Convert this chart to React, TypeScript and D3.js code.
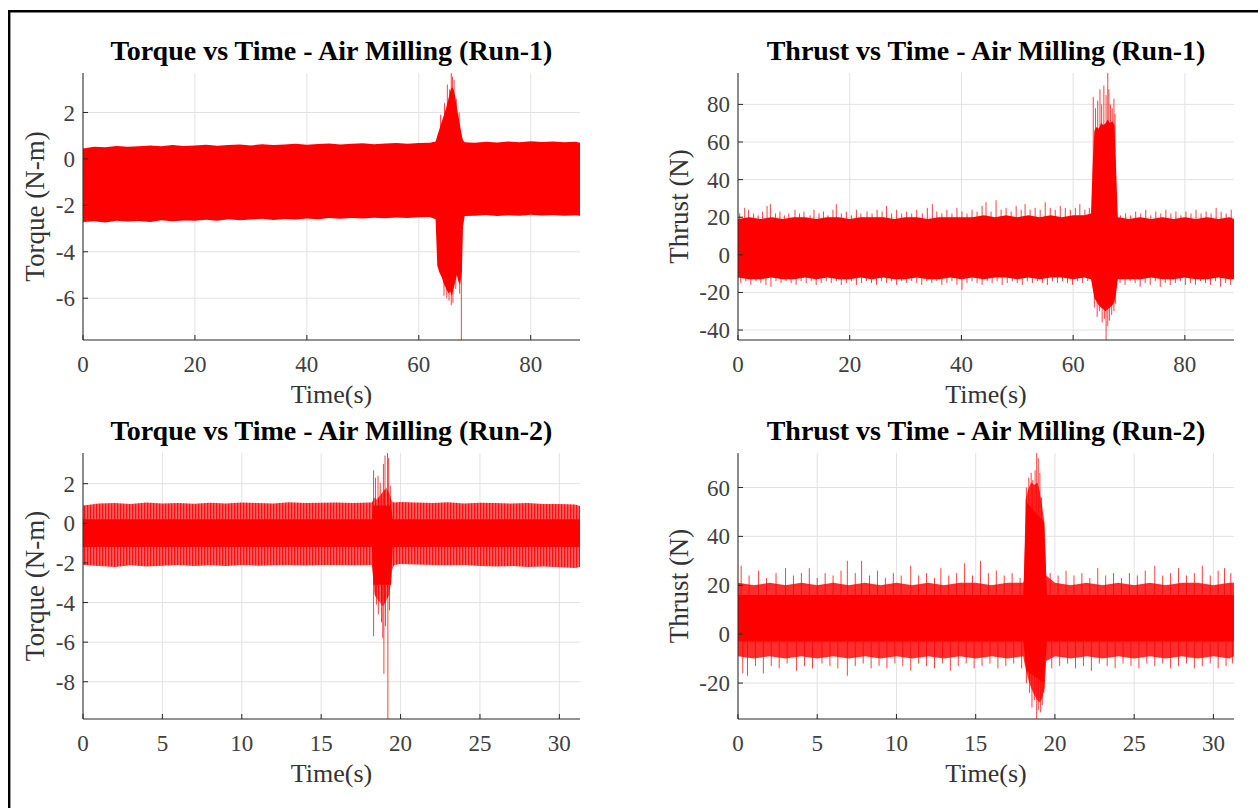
import React from 'react';
import * as d3 from 'd3';

type Pt = [number, number];

// ---------- Panel A : Torque vs Time - Run-1 ----------
const timeA = [0,2,4,6,8,10,12,14,16,18,20,22,24,26,28,30,32,34,36,38,40,42,44,46,48,50,52,54,56,58,60,62,
  63.0,63.3,63.7,64.1,64.5,64.9,65.3,65.6,65.9,66.2,66.5,66.8,67.1,67.4,67.7,67.9,68.2,
  70,72,74,76,78,80,82,84,86,88,88.8];
const upperA = [0.45,0.52,0.50,0.56,0.52,0.55,0.58,0.54,0.60,0.56,0.58,0.61,0.57,0.60,0.62,0.58,0.63,0.60,0.62,0.65,0.61,0.64,0.66,0.62,0.65,0.67,0.63,0.66,0.68,0.65,0.68,0.70,
  0.75,1.0,1.3,1.6,1.9,2.2,2.6,2.9,3.1,3.0,2.7,2.2,1.8,1.4,1.0,0.8,0.72,
  0.70,0.74,0.71,0.75,0.72,0.76,0.73,0.75,0.72,0.74,0.70];
const lowerA = [-2.72,-2.68,-2.74,-2.66,-2.70,-2.67,-2.72,-2.64,-2.68,-2.65,-2.66,-2.62,-2.66,-2.60,-2.64,-2.61,-2.58,-2.63,-2.59,-2.61,-2.57,-2.60,-2.55,-2.58,-2.54,-2.57,-2.53,-2.56,-2.52,-2.55,-2.51,-2.50,
  -2.6,-4.6,-4.9,-5.1,-5.4,-5.6,-5.8,-5.7,-5.9,-5.6,-5.3,-5.0,-5.3,-5.4,-4.8,-2.9,-2.46,
  -2.45,-2.42,-2.46,-2.43,-2.45,-2.41,-2.44,-2.42,-2.45,-2.43,-2.45];
const spikesA: Pt[] = [[63.9,1.9],[64.6,2.4],[65.1,3.2],[65.5,3.0],[65.8,3.72],[66.0,3.55],[66.3,3.4],[66.7,2.6],[67.2,2.0],
  [64.5,-5.9],[65.0,-6.0],[65.4,-6.1],[65.8,-6.3],[66.1,-6.2],[66.6,-5.6],[67.3,-5.8],[67.6,-7.9]];

// ---------- Panel B : Thrust vs Time - Run-1 ----------
const timeB = [0,2,4,6,8,10,12,14,16,18,20,22,24,26,28,30,32,34,36,38,40,42,44,46,48,50,52,54,56,58,60,62,
  63.2,63.5,63.8,64.2,64.6,65.0,65.4,65.8,66.2,66.6,67.0,67.4,67.7,68.0,
  70,72,74,76,78,80,82,84,86,88,88.8];
const upperB = [19,20,19,20,19,20,20,19,20,20,19,20,20,20,19,20,20,19,20,20,20,20,21,20,21,20,21,20,21,20,21,21,
  22,48,66,68,67,70,69,70,72,70,71,69,45,20,
  19,20,19,20,19,20,19,20,19,20,19];
const lowerB = [-12,-13,-13,-12,-13,-13,-12,-13,-12,-13,-13,-12,-13,-12,-13,-13,-12,-13,-13,-12,-13,-12,-13,-12,-12,-13,-12,-13,-12,-12,-13,-12,
  -13,-18,-23,-25,-27,-28,-29,-30,-29,-28,-27,-25,-20,-13,
  -13,-13,-12,-13,-13,-12,-13,-13,-12,-13,-13];
const spikesB: Pt[] = [
  [0.3,22],[1.2,25],[1.9,24],[2.8,22],[3.6,21],[4.4,23],[5.2,26],[5.8,27],[6.7,22],[7.5,23],[8.3,21],[9.1,22],[10.2,24],[11.0,22],[11.8,23],[12.9,21],[13.6,24],[14.5,22],[15.3,23],[16.1,21],[17.0,24],[17.6,27],[18.5,22],[19.4,23],[20.3,21],[21.2,24],[22.0,22],[23.1,23],[24.0,22],[24.9,24],[25.8,23],[26.6,26],[27.5,22],[28.4,24],[29.3,22],[30.2,23],[31.1,22],[32.0,24],[33.0,22],[33.9,25],[34.8,27],[35.6,23],[36.5,22],[37.4,24],[38.3,22],[39.2,25],[40.1,23],[41.0,22],[41.9,24],[42.8,23],[43.7,26],[44.4,28],[45.3,23],[46.2,29],[47.1,24],[48.0,25],[48.9,23],[49.8,26],[50.7,24],[51.4,27],[52.3,24],[53.2,25],[54.1,24],[55.0,28],[55.9,25],[56.8,24],[57.7,26],[58.6,25],[59.5,24],[60.4,25],[61.2,27],[62.1,24],[62.9,25],
  [68.5,21],[69.4,22],[70.3,21],[71.2,23],[72.1,22],[73.0,24],[73.9,21],[74.8,23],[75.7,22],[76.6,24],[77.5,22],[78.4,23],[79.3,21],[80.2,23],[81.1,22],[82.0,24],[82.9,22],[83.8,23],[84.7,22],[85.6,25],[86.5,23],[87.4,22],[88.3,24],
  [63.6,84],[64.0,78],[64.4,82],[64.8,88],[65.1,80],[65.5,90],[65.9,85],[66.2,97],[66.4,88],[66.7,80],[67.0,78],[67.3,83],[67.5,75],
  [0.5,-15],[1.4,-14],[2.3,-16],[3.2,-14],[4.1,-15],[5.0,-16],[5.9,-17],[6.8,-14],[7.7,-15],[8.6,-14],[9.5,-15],[10.4,-16],[11.3,-14],[12.2,-15],[13.1,-14],[14.0,-16],[14.9,-15],[15.8,-14],[16.7,-15],[17.6,-14],[18.5,-16],[19.4,-15],[20.3,-14],[21.2,-16],[22.1,-15],[23.0,-14],[23.9,-15],[24.8,-16],[25.7,-14],[26.6,-15],[27.5,-14],[28.4,-16],[29.3,-14],[30.2,-15],[31.1,-14],[32.0,-15],[32.9,-16],[33.8,-14],[34.7,-15],[35.6,-14],[36.5,-16],[37.4,-15],[38.3,-14],[39.2,-16],[40.1,-18.6],[41.0,-15],[41.9,-14],[42.8,-15],[43.7,-16],[44.6,-14],[45.5,-15],[46.4,-14],[47.3,-16],[48.2,-15],[49.1,-14],[50.0,-15],[50.9,-16],[51.8,-14],[52.7,-15],[53.6,-14],[54.5,-15],[55.4,-16],[56.3,-14],[57.2,-15],[58.1,-14],[59.0,-15],[59.9,-16],[60.8,-14],[61.7,-15],[62.6,-14],
  [68.4,-15],[69.3,-16],[70.2,-14],[71.1,-15],[72.0,-17],[72.9,-15],[73.8,-16],[74.7,-14],[75.6,-17],[76.5,-15],[77.4,-16],[78.3,-15],[79.2,-14],[80.1,-16],[81.0,-15],[81.9,-16],[82.8,-14],[83.7,-15],[84.6,-16],[85.5,-14],[86.4,-17],[87.3,-15],[88.2,-16],
  [63.8,-28],[64.3,-33],[64.7,-30],[65.2,-36],[65.6,-34],[65.9,-45.3],[66.2,-38],[66.5,-35],[66.9,-32],[67.3,-30],[67.6,-26]];

// ---------- Panel C : Torque vs Time - Run-2 ----------
const timeC = [0,1,2,3,4,5,6,7,8,9,10,11,12,13,14,15,16,17,18,
  18.2,18.35,18.5,18.7,18.9,19.1,19.3,19.45,19.6,
  20,21,22,23,24,25,26,27,28,29,30,31,31.3];
const upperC = [0.9,1.0,1.02,0.98,1.05,1.0,1.03,0.99,1.04,1.0,1.05,1.02,1.0,1.06,1.02,1.04,1.05,1.03,1.05,
  1.05,1.3,1.2,1.4,1.6,1.8,1.5,1.1,1.05,
  1.08,1.05,1.02,1.06,1.0,1.04,1.02,1.0,1.03,0.98,0.97,0.95,0.88];
const lowerC = [-2.1,-2.15,-2.2,-2.12,-2.18,-2.14,-2.1,-2.16,-2.12,-2.15,-2.1,-2.14,-2.12,-2.1,-2.13,-2.11,-2.1,-2.12,-2.1,
  -2.1,-3.6,-3.8,-4.0,-4.2,-3.9,-3.6,-2.4,-2.1,
  -2.05,-2.08,-2.1,-2.12,-2.1,-2.15,-2.18,-2.16,-2.2,-2.18,-2.22,-2.25,-2.2];
const coreTimeC = [0,18.2,18.3,19.4,19.5,31.3];
const coreUpperC = [0.2,0.2,0.9,0.9,0.2,0.2];
const coreLowerC = [-1.2,-1.2,-3.1,-3.1,-1.2,-1.2];
const spikesC: Pt[] = [[18.3,2.67],[18.42,2.3],[18.58,2.4],[18.72,2.05],[18.92,3.0],[19.02,3.42],[19.18,3.55],[19.25,3.3],[19.35,1.9],
  [18.3,-5.7],[18.48,-4.1],[18.6,-4.6],[18.8,-5.0],[18.88,-5.8],[18.95,-7.6],[19.05,-5.2],[19.2,-9.9],[19.3,-4.4]];

// ---------- Panel D : Thrust vs Time - Run-2 ----------
const timeD = [0,1,2,3,4,5,6,7,8,9,10,11,12,13,14,15,16,17,18,
  18.05,18.15,18.3,18.5,18.7,18.9,19.05,19.2,19.35,19.45,
  20,21,22,23,24,25,26,27,28,29,30,31,31.3];
const upperD = [21,20,21,20,21,20,21,20,21,20,21,20,21,20,21,21,20,21,21,
  22,55,59,62,61,62,58,52,45,24,
  21,20,21,20,21,20,21,20,21,21,20,21,21];
const lowerD = [-9,-10,-9,-10,-9,-10,-9,-10,-9,-10,-9,-10,-9,-10,-9,-10,-9,-10,-9,
  -11,-14,-18,-22,-25,-27,-28,-26,-22,-11,
  -9,-10,-9,-10,-9,-10,-9,-10,-9,-10,-9,-10,-9];
const coreTimeD = [0,18.0,18.2,19.3,19.5,31.3];
const coreUpperD = [16,16,54,46,16,16];
const coreLowerD = [-3,-3,-15,-20,-3,-3];
const spikesD: Pt[] = [
  [0.2,28],[0.7,24],[1.3,26],[1.8,23],[2.4,25],[3.0,27],[3.5,24],[4.0,25],[4.5,27],[5.0,23],[5.5,25],[6.0,24],[6.5,26],[6.9,30],[7.4,25],[7.8,30],[8.3,24],[8.8,26],[9.3,23],[9.8,25],[10.3,24],[10.9,28],[11.4,24],[11.9,25],[12.4,23],[12.8,27],[13.3,24],[13.8,25],[14.3,29],[14.8,24],[15.3,30],[15.8,25],[16.3,26],[16.8,24],[17.3,25],[17.8,23],
  [19.7,25],[20.2,24],[20.7,26],[21.2,24],[21.7,25],[22.2,23],[22.7,27],[23.2,24],[23.7,25],[24.2,23],[24.7,25],[25.2,24],[25.7,26],[26.3,28],[26.8,24],[27.3,25],[27.8,27],[28.3,24],[28.8,25],[29.3,28],[29.8,24],[30.3,26],[30.7,27],[31.1,25],
  [18.2,60],[18.35,64],[18.5,66],[18.6,63],[18.75,67],[18.85,74.5],[18.95,72],[19.05,66],[19.15,56],
  [0.3,-16],[0.6,-17],[1.1,-13],[1.6,-16],[2.1,-13],[2.6,-14],[3.1,-12],[3.7,-15],[4.2,-13],[4.7,-14],[5.3,-12],[5.8,-13],[6.3,-14],[6.9,-17],[7.4,-13],[7.9,-12],[8.4,-14],[8.9,-13],[9.4,-14],[9.9,-12],[10.4,-13],[10.9,-15],[11.4,-12],[11.9,-13],[12.4,-14],[12.9,-12],[13.4,-15],[13.9,-13],[14.4,-12],[14.9,-14],[15.4,-13],[15.9,-12],[16.4,-14],[16.9,-13],[17.4,-12],[17.9,-14],
  [19.8,-14],[20.3,-13],[20.8,-12],[21.3,-14],[21.8,-13],[22.3,-15],[22.8,-12],[23.3,-13],[23.8,-14],[24.3,-12],[24.8,-13],[25.3,-14],[25.8,-12],[26.3,-13],[26.8,-12],[27.3,-14],[27.8,-13],[28.3,-12],[28.8,-14],[29.3,-13],[29.8,-12],[30.3,-14],[30.8,-13],[31.2,-12],
  [18.2,-20],[18.4,-24],[18.55,-30],[18.7,-27],[18.85,-34.7],[18.95,-31],[19.1,-32],[19.2,-29],[19.3,-24]];

// ---------- Axes / labels ----------
const titles = ['Torque vs Time - Air Milling (Run-1)', 'Thrust vs Time - Air Milling (Run-1)',
  'Torque vs Time - Air Milling (Run-2)', 'Thrust vs Time - Air Milling (Run-2)'];
const yLabels = ['Torque (N-m)', 'Thrust (N)', 'Torque (N-m)', 'Thrust (N)'];
const xLabel = 'Time(s)';
const xTicksRun1 = [0, 20, 40, 60, 80];
const xTicksRun2 = [0, 5, 10, 15, 20, 25, 30];
const yTicksA = [-6, -4, -2, 0, 2];
const yTicksB = [-40, -20, 0, 20, 40, 60, 80];
const yTicksC = [-8, -6, -4, -2, 0, 2];
const yTicksD = [-20, 0, 20, 40, 60];

const FONT = "'Liberation Serif', 'Times New Roman', serif";

interface PanelProps {
  id: string;
  title: string; ylabel: string;
  x0: number; x1: number; y0: number; y1: number;
  xDomain: [number, number]; yDomain: [number, number];
  xTicks: number[]; yTicks: number[];
  time: number[]; upper: number[]; lower: number[];
  coreTime?: number[]; coreUpper?: number[]; coreLower?: number[];
  spikes: Pt[]; spikeBase: number;
  outerFill: string; outerOpacity: number;
  ylabelX: number;
}

function Panel(p: PanelProps) {
  const x = d3.scaleLinear().domain(p.xDomain).range([p.x0, p.x1]);
  const y = d3.scaleLinear().domain(p.yDomain).range([p.y1, p.y0]);
  const outer = d3.area<number>().x((_, i) => x(p.time[i])).y0((_, i) => y(p.lower[i])).y1((_, i) => y(p.upper[i]));
  const outerPath = outer(p.time) || '';
  let corePath = '';
  if (p.coreTime && p.coreUpper && p.coreLower) {
    const ct = p.coreTime, cu = p.coreUpper, cl = p.coreLower;
    corePath = d3.area<number>().x((_, i) => x(ct[i])).y0((_, i) => y(cl[i])).y1((_, i) => y(cu[i]))(ct) || '';
  }
  const clipId = `clip-${p.id}`;
  const cx = (p.x0 + p.x1) / 2;
  const cy = (p.y0 + p.y1) / 2;
  return (
    <g>
      <defs>
        <clipPath id={clipId}>
          <rect x={p.x0} y={p.y0} width={p.x1 - p.x0} height={p.y1 - p.y0} />
        </clipPath>
      </defs>
      {p.xTicks.map(t => (
        <line key={'gx' + t} x1={x(t)} x2={x(t)} y1={p.y0} y2={p.y1} stroke="#e2e2e2" strokeWidth={1} />
      ))}
      {p.yTicks.map(t => (
        <line key={'gy' + t} x1={p.x0} x2={p.x1} y1={y(t)} y2={y(t)} stroke="#e2e2e2" strokeWidth={1} />
      ))}
      <g clipPath={`url(#${clipId})`}>
        <path d={outerPath} fill={p.outerFill} fillOpacity={p.outerOpacity} />
        {corePath && <path d={corePath} fill="#ff0000" />}
        {p.spikes.map(([t, v], i) => (
          <line key={'s' + i} x1={x(t)} x2={x(t)} y1={y(p.spikeBase)} y2={y(v)} stroke="#ff0000" strokeWidth={1} strokeOpacity={0.75} />
        ))}
      </g>
      <line x1={p.x0} x2={p.x0} y1={p.y0} y2={p.y1} stroke="#262626" strokeWidth={1} />
      <line x1={p.x0} x2={p.x1} y1={p.y1} y2={p.y1} stroke="#262626" strokeWidth={1} />
      {p.xTicks.map(t => (
        <g key={'xt' + t}>
          <line x1={x(t)} x2={x(t)} y1={p.y1} y2={p.y1 - 5} stroke="#262626" strokeWidth={1} />
          <text x={x(t)} y={p.y1 + 32} textAnchor="middle" fontFamily={FONT} fontSize={23} fill="#404040">{t}</text>
        </g>
      ))}
      {p.yTicks.map(t => (
        <g key={'yt' + t}>
          <line x1={p.x0} x2={p.x0 + 5} y1={y(t)} y2={y(t)} stroke="#262626" strokeWidth={1} />
          <text x={p.x0 - 8} y={y(t)} dy="0.35em" textAnchor="end" fontFamily={FONT} fontSize={23} fill="#404040">{t}</text>
        </g>
      ))}
      <text x={cx} y={p.y1 + 63} textAnchor="middle" fontFamily={FONT} fontSize={26} fill="#333">{xLabel}</text>
      <text transform={`translate(${p.ylabelX},${cy}) rotate(-90)`} textAnchor="middle" fontFamily={FONT} fontSize={27} fill="#333">{p.ylabel}</text>
      <text x={cx} y={p.y0 - 13} textAnchor="middle" fontFamily={FONT} fontSize={28} fontWeight="bold" fill="#000">{p.title}</text>
    </g>
  );
}

export default function App() {
  return (
    <svg width={1258} height={808} style={{ position: 'absolute', left: 0, top: 0, background: '#fff' }}>
      <defs>
        <pattern id="stripes" width={3} height={10} patternUnits="userSpaceOnUse">
          <rect x={0} y={0} width={3} height={10} fill="#ff6262" />
          <rect x={0} y={0} width={1.3} height={10} fill="#ff1010" />
        </pattern>
      </defs>
      <rect x={0} y={0} width={1258} height={808} fill="#fff" />
      <path d="M 9.2 812 V 11.2 H 1262" fill="none" stroke="#000" strokeWidth={2.4} />
      <Panel id="a" title={titles[0]} ylabel={yLabels[0]} x0={83} x1={580} y0={73} y1={340}
        xDomain={[0, 88.8]} yDomain={[-7.8, 3.7]} xTicks={xTicksRun1} yTicks={yTicksA}
        time={timeA} upper={upperA} lower={lowerA} spikes={spikesA} spikeBase={-1}
        outerFill="#ff0000" outerOpacity={1} ylabelX={44} />
      <Panel id="b" title={titles[1]} ylabel={yLabels[1]} x0={738} x1={1234} y0={73} y1={340}
        xDomain={[0, 88.8]} yDomain={[-45.3, 96.7]} xTicks={xTicksRun1} yTicks={yTicksB}
        time={timeB} upper={upperB} lower={lowerB} spikes={spikesB} spikeBase={3}
        outerFill="#ff0000" outerOpacity={1} ylabelX={688} />
      <Panel id="c" title={titles[2]} ylabel={yLabels[2]} x0={83} x1={580} y0={453} y1={719}
        xDomain={[0, 31.3]} yDomain={[-9.88, 3.55]} xTicks={xTicksRun2} yTicks={yTicksC}
        time={timeC} upper={upperC} lower={lowerC} coreTime={coreTimeC} coreUpper={coreUpperC} coreLower={coreLowerC}
        spikes={spikesC} spikeBase={-0.5}
        outerFill="url(#stripes)" outerOpacity={1} ylabelX={44} />
      <Panel id="d" title={titles[3]} ylabel={yLabels[3]} x0={738} x1={1234} y0={453} y1={719}
        xDomain={[0, 31.3]} yDomain={[-34.7, 74.1]} xTicks={xTicksRun2} yTicks={yTicksD}
        time={timeD} upper={upperD} lower={lowerD} coreTime={coreTimeD} coreUpper={coreUpperD} coreLower={coreLowerD}
        spikes={spikesD} spikeBase={6}
        outerFill="#ff0000" outerOpacity={0.82} ylabelX={688} />
    </svg>
  );
}
